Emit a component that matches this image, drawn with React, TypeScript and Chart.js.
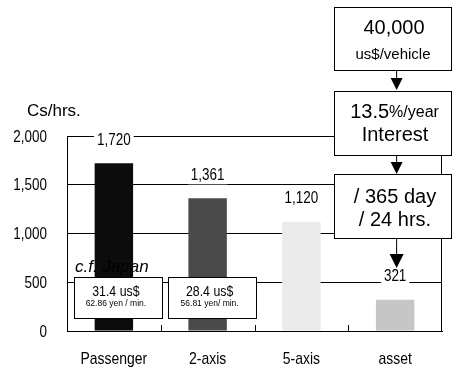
import { useEffect, useRef } from "react";
import { Chart, registerables } from "chart.js";

Chart.register(...registerables);

// Hourly capital cost per vehicle type
const categories = ["Passenger", "2-axis", "5-axis", "asset"];
const costPerHour = [1720, 1361, 1120, 321];
const barColors = ["#0c0c0c", "#4a4a4a", "#ebebeb", "#c6c6c6"];
const yMax = 2000;
const yStep = 500;
const yTitle = "Cs/hrs.";

// Derivation chain shown on the right
const assetPrice = "40,000";
const assetUnit = "us$/vehicle";
const interestRate = "13.5";
const interestUnit = "%/year";
const interestLabel = "Interest";
const perDay = "/ 365 day";
const perHour = "/ 24 hrs.";

// Comparison with Japan
const japanTitle = "c.f. Japan";
const japanUsd = ["31.4 us$", "28.4 us$"];
const japanYen = ["62.86 yen / min.", "56.81 yen/ min."];

const SANS = "'Liberation Sans', Arial, sans-serif";
const CONDENSE = 0.84;

const fmt = (v: number) => v.toLocaleString("en-US");

function box(ctx: CanvasRenderingContext2D, x0: number, y0: number, x1: number, y1: number) {
  ctx.fillStyle = "#fff";
  ctx.fillRect(x0, y0, x1 - x0, y1 - y0);
  ctx.strokeStyle = "#000";
  ctx.lineWidth = 1;
  ctx.strokeRect(x0 + 0.5, y0 + 0.5, x1 - x0 - 1, y1 - y0 - 1);
}

function arrow(ctx: CanvasRenderingContext2D, x: number, y0: number, tip: number, head: number, half: number) {
  ctx.strokeStyle = "#000";
  ctx.fillStyle = "#000";
  ctx.lineWidth = 1;
  ctx.beginPath();
  ctx.moveTo(x, y0);
  ctx.lineTo(x, tip - head + 1);
  ctx.stroke();
  ctx.beginPath();
  ctx.moveTo(x - half, tip - head);
  ctx.lineTo(x + half, tip - head);
  ctx.lineTo(x, tip);
  ctx.closePath();
  ctx.fill();
}

// text with an optional horizontal squeeze
function text(
  ctx: CanvasRenderingContext2D,
  s: string,
  x: number,
  y: number,
  font: string,
  align: CanvasTextAlign = "center",
  sx = 1,
  baseline: CanvasTextBaseline = "middle"
) {
  ctx.save();
  ctx.font = font;
  ctx.fillStyle = "#000";
  ctx.textAlign = align;
  ctx.textBaseline = baseline;
  ctx.translate(x, y);
  ctx.scale(sx, 1);
  ctx.fillText(s, 0, 0);
  ctx.restore();
}

const overlay = {
  id: "overlay",
  afterDatasetsDraw(chart: any) {
    const { ctx, chartArea: a } = chart;
    const xs = chart.scales.x;
    const ys = chart.scales.y;
    ctx.save();

    // right frame of the plot
    ctx.strokeStyle = "#000";
    ctx.lineWidth = 1;
    ctx.beginPath();
    ctx.moveTo(a.right - 0.5, a.top);
    ctx.lineTo(a.right - 0.5, a.bottom);
    // short inner ticks between categories
    for (let i = 1; i < categories.length; i++) {
      const bx = Math.round((xs.getPixelForValue(i - 1) + xs.getPixelForValue(i)) / 2) + 0.5;
      ctx.moveTo(bx, a.bottom - 6);
      ctx.lineTo(bx, a.bottom);
    }
    ctx.stroke();

    // tick labels
    ys.ticks.forEach((t: any) => {
      const py = ys.getPixelForValue(t.value);
      text(ctx, fmt(t.value), a.left - 20, py + 5.5, `16px ${SANS}`, "right", CONDENSE, "alphabetic");
    });
    categories.forEach((c, i) => {
      text(ctx, c, xs.getPixelForValue(i), a.bottom + 33, `17px ${SANS}`, "center", 0.82, "alphabetic");
    });

    // value labels on a white ground
    const meta = chart.getDatasetMeta(0);
    ctx.font = `16px ${SANS}`;
    meta.data.forEach((bar: any, i: number) => {
      const s = fmt(costPerHour[i]);
      const cy = bar.y - 23;
      const w = ctx.measureText(s).width * CONDENSE;
      ctx.fillStyle = "#fff";
      ctx.fillRect(bar.x - w / 2 - 3, cy - 9, w + 6, 18);
      text(ctx, s, bar.x, cy, `16px ${SANS}`, "center", CONDENSE);
    });
    ctx.restore();
  },
  afterDraw(chart: any) {
    const { ctx } = chart;
    const xs = chart.scales.x;
    ctx.save();

    // axis title
    text(ctx, yTitle, 27, 111, `17px ${SANS}`, "left");

    // derivation chain
    const ax = xs.getPixelForValue(categories.length - 1) + 1.5;
    const bl = 334;
    const br = 452;
    const bc = (bl + br) / 2;
    box(ctx, bl, 7, br, 71);
    text(ctx, assetPrice, bc + 1, 28, `20px ${SANS}`);
    text(ctx, assetUnit, bc, 55, `15px ${SANS}`);
    arrow(ctx, ax, 71, 90, 12, 6);

    box(ctx, bl, 91, br, 156);
    ctx.font = `20px ${SANS}`;
    const w1 = ctx.measureText(interestRate).width;
    ctx.font = `16px ${SANS}`;
    const w2 = ctx.measureText(interestUnit).width;
    const lx = bc + 1.5 - (w1 + w2) / 2;
    text(ctx, interestRate, lx, 112, `20px ${SANS}`, "left");
    text(ctx, interestUnit, lx + w1, 113, `16px ${SANS}`, "left");
    text(ctx, interestLabel, bc + 2, 135, `20px ${SANS}`);
    arrow(ctx, ax, 156, 174, 12, 6);

    box(ctx, bl, 174, br, 239);
    text(ctx, perDay, bc + 2, 197, `20px ${SANS}`);
    text(ctx, perHour, bc + 2, 220, `20px ${SANS}`);
    arrow(ctx, ax, 239, 268, 14, 7);

    // comparison with Japan
    text(ctx, japanTitle, 75, 267, `italic 17px ${SANS}`, "left");
    japanUsd.forEach((s, i) => {
      const cx = xs.getPixelForValue(i) + 5;
      box(ctx, Math.round(cx - 44.5), 277, Math.round(cx + 44.5), 319);
      text(ctx, s, cx - 3, 292, `14.5px ${SANS}`, "center", 0.85);
      text(ctx, japanYen[i], cx - 3, 304, `8.5px ${SANS}`);
    });
    ctx.restore();
  },
};

export default function App() {
  const ref = useRef<HTMLCanvasElement>(null);

  useEffect(() => {
    if (!ref.current) return;
    const chart = new Chart(ref.current, {
      type: "bar",
      data: {
        labels: categories,
        datasets: [
          {
            data: costPerHour,
            backgroundColor: barColors,
            borderWidth: 0,
            barPercentage: 0.41,
            categoryPercentage: 1,
          },
        ],
      },
      options: {
        responsive: false,
        animation: false,
        layout: { padding: { top: 136, right: 10, left: 0, bottom: 0 } },
        plugins: { legend: { display: false }, tooltip: { enabled: false } },
        scales: {
          x: {
            z: 1,
            grid: { display: false, drawTicks: false },
            border: { color: "#000", width: 1 },
            ticks: { display: false },
            afterFit: (s: any) => {
              s.height = 41;
            },
          },
          y: {
            min: 0,
            max: yMax,
            ticks: { stepSize: yStep, display: false },
            grid: { color: "#000", lineWidth: 1, drawTicks: false },
            border: { color: "#000", width: 1 },
            afterFit: (s: any) => {
              s.width = 67;
            },
          },
        },
      },
      plugins: [overlay],
    });
    return () => chart.destroy();
  }, []);

  return (
    <div style={{ position: "absolute", left: 0, top: 0, width: 452, height: 372, background: "#fff" }}>
      <canvas ref={ref} width={452} height={372} />
    </div>
  );
}
